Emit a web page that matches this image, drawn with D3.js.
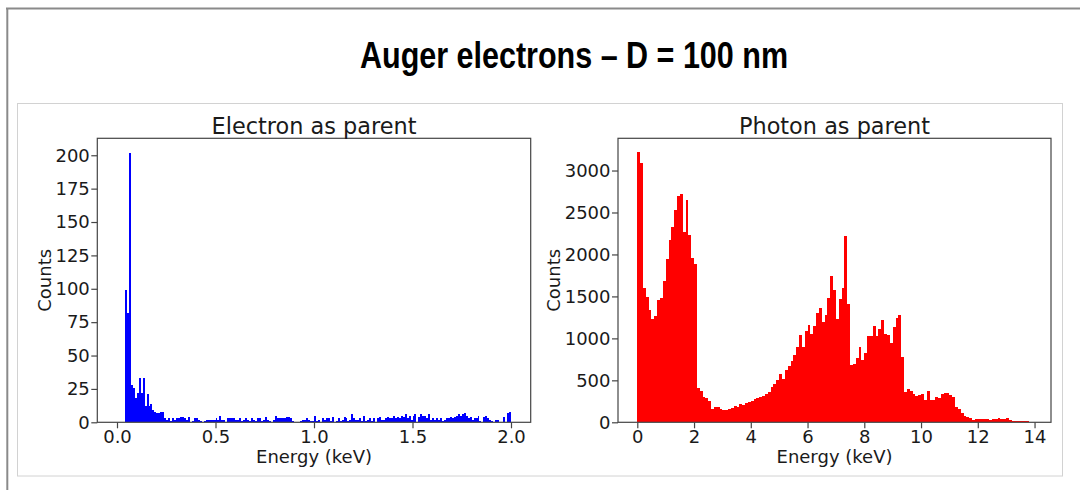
<!DOCTYPE html>
<html>
<head>
<meta charset="utf-8">
<script src="https://cdn.jsdelivr.net/npm/d3@7"></script>
<style>
  html, body { margin: 0; padding: 0; background: #ffffff; }
  svg { display: block; }
</style>
</head>
<body>
<svg id="fig" width="1080" height="490"></svg>
<script>
// ---- Data -------------------------------------------------------------
// Electron as parent: 200 bins of 0.01 keV from 0 to 2 keV
const electronBinWidth = 0.01;
const electronCounts = [
  0, 0, 0, 0, 99, 82, 202, 28, 26, 18, 22, 33, 22, 33, 12, 21, 12, 14, 9, 8,
  7, 7, 8, 8,
  3, 2, 3, 1, 3, 2, 3, 3, 4, 4, 3, 2, 4, 0, 1, 3, 3,
  2, 1, 0, 1, 2, 2, 2, 2, 2, 3, 2, 5, 2, 2, 0, 3, 3, 3, 3, 2,
  2, 3, 1, 2, 3, 2, 1, 3, 2, 1, 3, 3, 1, 2, 4, 2, 1, 0, 2, 5,
  3, 3, 3, 3, 3, 4, 4, 3, 1, 0, 0, 0, 1, 2, 2, 3, 2, 1, 1, 5,
  1, 2, 0, 3, 2, 3, 3, 1, 4, 0, 1, 3, 1, 2, 4, 3, 1, 2, 6, 3,
  2, 2, 3, 1, 5, 1, 2, 3, 1, 3, 0, 3, 4, 2, 2, 3, 4, 3, 3, 5,
  3, 4, 3, 5, 4, 6, 3, 5, 2, 5, 6, 0, 4, 6, 5, 5, 3, 6, 2, 3,
  2, 3, 2, 3, 1, 2, 3, 3, 4, 3, 4, 5, 6, 5, 6, 7, 5, 3, 4, 2,
  3, 3, 5, 1, 0, 4, 5, 3, 2, 1, 0, 2, 2, 0, 0, 4, 0, 7, 8
];

// Photon as parent: 140 bins of 0.1 keV from 0 to 14 keV
const photonBinWidth = 0.1;
const photonCounts = [
  3223, 3092, 1600, 1492, 1341, 1233, 1261, 1452, 1484, 1679,
  1950, 2177, 2328, 2527, 2694, 2722, 2268, 2646, 2228, 1958,
  1882, 410, 378, 298, 290, 259, 159, 179, 179, 159,
  147, 147, 155, 175, 195, 179, 219, 207, 231, 239,
  250, 279, 290, 298, 314, 338, 358, 418, 458, 505,
  577, 517, 625, 665, 736, 796, 895, 1035, 895, 1082,
  1154, 1054, 1146, 1301, 1365, 1194, 1273, 1480, 1743, 1572,
  1233, 1472, 1604, 2220, 1405, 684, 696, 768, 903, 744,
  824, 1027, 1027, 1150, 1027, 1114, 1214, 1047, 1039, 947,
  1134, 1241, 1281, 776, 358, 398, 378, 338, 318, 330,
  338, 267, 378, 267, 267, 298, 286, 338, 350, 350,
  330, 306, 187, 155, 107, 80, 60, 52, 28, 36,
  36, 40, 36, 40, 32, 40, 36, 48, 36, 40,
  56, 24, 20, 20, 16, 12, 12, 12, 8, 8
];

// Axis ticks
const electronXTicks = [0, 0.5, 1.0, 1.5, 2.0];
const electronYTicks = [0, 25, 50, 75, 100, 125, 150, 175, 200];
const photonXTicks = [0, 2, 4, 6, 8, 10, 12, 14];
const photonYTicks = [0, 500, 1000, 1500, 2000, 2500, 3000];

// Text
const pageTitle = "Auger electrons \u2013 D = 100 nm";
const electronTitle = "Electron as parent";
const photonTitle = "Photon as parent";
const xLabel = "Energy (keV)";
const yLabel = "Counts";

// ---- Drawing ----------------------------------------------------------
const svg = d3.select("#fig");
const chartFont = "'DejaVu Sans', Verdana, sans-serif";
const textColor = "#1a1a1a";

// Slide frame
svg.append("line").attr("x1", 6).attr("x2", 1080).attr("y1", 8.5).attr("y2", 8.5)
  .attr("stroke", "#8a8a8a").attr("stroke-width", 2);
svg.append("line").attr("x1", 7.3).attr("x2", 7.3).attr("y1", 8).attr("y2", 490)
  .attr("stroke", "#8a8a8a").attr("stroke-width", 2);

// Slide heading
svg.append("text")
  .attr("x", 574).attr("y", 68)
  .attr("text-anchor", "middle")
  .attr("font-family", "'Liberation Sans', Arial, sans-serif")
  .attr("font-weight", "bold")
  .attr("font-size", 36)
  .attr("textLength", 428)
  .attr("lengthAdjust", "spacingAndGlyphs")
  .attr("fill", "#000")
  .text(pageTitle);

// Figure panel
svg.append("rect")
  .attr("x", 17.5).attr("y", 103.5).attr("width", 1045).attr("height", 372.5)
  .attr("fill", "#fff").attr("stroke", "#d2d2d2").attr("stroke-width", 1);

function histogram(cfg) {
  const { left, right, top, bottom } = cfg.box;
  const x = d3.scaleLinear().domain(cfg.xDomain).range([left, right]);
  const y = d3.scaleLinear().domain(cfg.yDomain).range([bottom, top]);
  const g = svg.append("g");

  // bars, snapped to whole pixels so neighbouring bins join without seams
  g.append("g").attr("shape-rendering", "crispEdges").selectAll("rect")
    .data(cfg.counts.map((c, i) => ({ x0: i * cfg.binWidth, x1: (i + 1) * cfg.binWidth, c })))
    .join("rect")
    .filter(d => d.c > 0)
    .attr("x", d => Math.round(x(d.x0)))
    .attr("width", d => Math.round(x(d.x1)) - Math.round(x(d.x0)))
    .attr("y", d => Math.round(y(d.c)))
    .attr("height", d => Math.round(y(0)) - Math.round(y(d.c)))
    .attr("fill", cfg.color);

  // axes
  const xAxis = d3.axisBottom(x).tickValues(cfg.xTicks).tickFormat(cfg.xFormat)
    .tickSize(6).tickPadding(1.5);
  const yAxis = d3.axisLeft(y).tickValues(cfg.yTicks).tickFormat(d3.format("d"))
    .tickSize(6).tickPadding(1.5);

  const gx = g.append("g").attr("transform", `translate(0,${bottom})`).call(xAxis);
  const gy = g.append("g").attr("transform", `translate(${left},0)`).call(yAxis);
  [gx, gy].forEach(a => {
    a.select(".domain").remove();
    a.selectAll(".tick line").attr("stroke", "#444").attr("stroke-width", 1.2);
    a.selectAll(".tick text")
      .attr("font-family", chartFont).attr("font-size", 18).attr("fill", textColor);
  });

  // frame (all four spines)
  g.append("rect")
    .attr("x", left).attr("y", top)
    .attr("width", right - left).attr("height", bottom - top)
    .attr("fill", "none").attr("stroke", "#444").attr("stroke-width", 1.2);

  // titles and labels
  g.append("text")
    .attr("x", (left + right) / 2).attr("y", top - 4.5)
    .attr("text-anchor", "middle")
    .attr("font-family", chartFont).attr("font-size", 22.4).attr("fill", textColor)
    .text(cfg.title);
  g.append("text")
    .attr("x", (left + right) / 2).attr("y", 462.5)
    .attr("text-anchor", "middle")
    .attr("font-family", chartFont).attr("font-size", 18).attr("fill", textColor)
    .text(xLabel);
  g.append("text")
    .attr("transform", `translate(${cfg.yLabelX},${(top + bottom) / 2}) rotate(-90)`)
    .attr("text-anchor", "middle")
    .attr("font-family", chartFont).attr("font-size", 18).attr("fill", textColor)
    .text(yLabel);
}

histogram({
  box: { left: 97.3, right: 530.7, top: 138.3, bottom: 422.3 },
  xDomain: [-0.1, 2.1],
  yDomain: [0, 212.7],
  counts: electronCounts,
  binWidth: electronBinWidth,
  color: "#0000ff",
  xTicks: electronXTicks,
  yTicks: electronYTicks,
  xFormat: d3.format(".1f"),
  title: electronTitle,
  yLabelX: 50.5
});

histogram({
  box: { left: 618, right: 1051, top: 138.3, bottom: 422.3 },
  xDomain: [-0.68, 14.58],
  yDomain: [0, 3384],
  counts: photonCounts,
  binWidth: photonBinWidth,
  color: "#ff0000",
  xTicks: photonXTicks,
  yTicks: photonYTicks,
  xFormat: d3.format("d"),
  title: photonTitle,
  yLabelX: 559.5
});
</script>
</body>
</html>
